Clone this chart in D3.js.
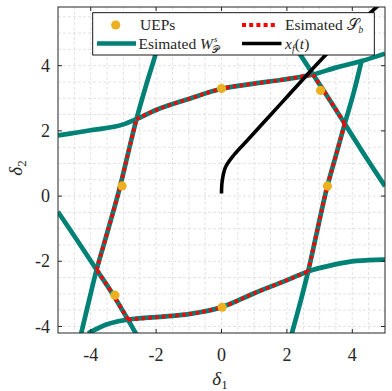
<!DOCTYPE html>
<html>
<head>
<meta charset="utf-8">
<script src="https://d3js.org/d3.v7.min.js"></script>
<style>
body{margin:0;background:#fff}
text{font-family:"Liberation Serif","Times New Roman",serif;fill:#262626}
</style>
</head>
<body>
<div id="chart"></div>
<script>
// axis ticks
var xTicks = [-4, -2, 0, 2, 4];
var yTicks = [-4, -2, 0, 2, 4];

// estimated stable manifolds W^s_P
var wsTop = [[-5,1.86],[-4,2.02],[-3,2.2],[-2.6,2.36],[-2,2.64],[-1,2.98],[0,3.29],[1,3.45],[1.8,3.56],[2.8,3.73],[3.5,3.94],[4.28,4.14],[5,4.37]];
var wsLeft = [[-4.3,-4.25],[-4.05,-3.2],[-3.82,-2.26],[-3.47,-1.04],[-3.13,0.18],[-2.86,1.3],[-2.6,2.36],[-2.32,3.35],[-2.06,4.2],[-1.8,5.1]];
var wsLowDiag = [[-5,-0.48],[-4.4,-1.38],[-3.82,-2.26],[-3.33,-3.0],[-2.86,-3.79],[-2.6,-4.25]];
var wsBottom = [[-4.08,-4.21],[-3.52,-3.94],[-2.86,-3.79],[-1.7,-3.69],[-1,-3.62],[0,-3.41],[1,-2.98],[2,-2.58],[2.65,-2.31],[3.41,-2.11],[4.13,-1.99],[5,-1.95]];
var wsRight = [[2.14,-4.25],[2.4,-3.3],[2.65,-2.31],[2.93,-1.05],[3.21,0.2],[3.5,1.25],[3.77,2.22],[4.05,3.2],[4.28,4.14]];
var wsUpDiag = [[1.9,5.0],[2.4,4.35],[2.8,3.73],[3.3,2.96],[3.77,2.22],[4.35,1.3],[5,0.3]];

// estimated stability boundary S_b, corner to corner
var sbTop = [[-2.6,2.36],[-2,2.64],[-1,2.98],[0,3.29],[1,3.45],[1.8,3.56],[2.8,3.73]];
var sbUpRight = [[2.8,3.73],[3.3,2.96],[3.77,2.22]];
var sbRight = [[3.77,2.22],[3.5,1.25],[3.21,0.2],[2.93,-1.05],[2.65,-2.31]];
var sbBottom = [[-2.86,-3.79],[-1.7,-3.69],[-1,-3.62],[0,-3.41],[1,-2.98],[2,-2.58],[2.65,-2.31]];
var sbLowLeft = [[-2.86,-3.79],[-3.33,-3.0],[-3.82,-2.26]];
var sbLeft = [[-3.82,-2.26],[-3.47,-1.04],[-3.13,0.18],[-2.86,1.3],[-2.6,2.36]];

// unstable equilibrium points
var ueps = [[-3.04,0.31],[0,3.3],[3.03,3.24],[3.24,0.31],[0.02,-3.41],[-3.26,-3.04]];

// fault-on trajectory x_f(t)
var xfPath = [[0,0.08],[0.02,0.45],[0.12,0.88],[0.38,1.26],[0.8,1.72],[1.4,2.38],[2.0,3.04],[2.6,3.7],[3.2,4.34],[3.8,4.93],[4.8,5.85]];

var teal = "#008176", red = "#ff0000", orange = "#edb120";

var W = 392, H = 391;
var margin = {top: 7, left: 58};
var width = 327, height = 326;

var x = d3.scaleLinear().domain([-5, 5]).range([0, width]);
var y = d3.scaleLinear().domain([-4.2, 5.8]).range([height, 0]);

var svg = d3.select("#chart").append("svg")
    .attr("width", W).attr("height", H);

var g = svg.append("g")
    .attr("transform", "translate(" + margin.left + "," + margin.top + ")");

g.append("clipPath").attr("id", "clip")
  .append("rect").attr("width", width).attr("height", height);

// dashed grid every 0.5
var gridX = d3.range(-4.5, 5, 0.5), gridY = d3.range(-4, 5.8, 0.5);
g.append("g").selectAll("line").data(gridX).enter().append("line")
    .attr("x1", function(d) { return x(d); }).attr("x2", function(d) { return x(d); })
    .attr("y1", 0).attr("y2", height)
    .attr("stroke", "#dcdcdc").attr("stroke-width", 0.8).attr("stroke-dasharray", "3,2");
g.append("g").selectAll("line").data(gridY).enter().append("line")
    .attr("y1", function(d) { return y(d); }).attr("y2", function(d) { return y(d); })
    .attr("x1", 0).attr("x2", width)
    .attr("stroke", "#dcdcdc").attr("stroke-width", 0.8).attr("stroke-dasharray", "3,2");

// smooth through the points; mostly-horizontal ones use monotoneX
var line = d3.line()
    .x(function(d) { return x(d[0]); })
    .y(function(d) { return y(d[1]); })
    .curve(d3.curveCatmullRom.alpha(0.5));
var lineH = d3.line()
    .x(function(d) { return x(d[0]); })
    .y(function(d) { return y(d[1]); })
    .curve(d3.curveMonotoneX);

var plot = g.append("g").attr("clip-path", "url(#clip)");

[[wsTop, lineH], [wsLeft, line], [wsLowDiag, line], [wsBottom, lineH], [wsRight, line], [wsUpDiag, line]].forEach(function(c) {
  plot.append("path").attr("d", c[1](c[0]))
      .attr("fill", "none").attr("stroke", teal).attr("stroke-width", 4.7);
});

[[sbTop, lineH], [sbUpRight, line], [sbRight, line], [sbBottom, lineH], [sbLowLeft, line], [sbLeft, line]].forEach(function(c) {
  plot.append("path").attr("d", c[1](c[0]))
      .attr("fill", "none").attr("stroke", red).attr("stroke-width", 3.8)
      .attr("stroke-dasharray", "3.6,3.2");
});

plot.append("path").attr("d", line(xfPath))
    .attr("fill", "none").attr("stroke", "#000").attr("stroke-width", 3.6);

plot.selectAll("circle").data(ueps).enter().append("circle")
    .attr("cx", function(d) { return x(d[0]); })
    .attr("cy", function(d) { return y(d[1]); })
    .attr("r", 4.6).attr("fill", orange);

// box and inward ticks
g.append("rect").attr("width", width).attr("height", height)
    .attr("fill", "none").attr("stroke", "#262626").attr("stroke-width", 1);
var tl = 4;
xTicks.forEach(function(t) {
  g.append("line").attr("x1", x(t)).attr("x2", x(t)).attr("y1", height).attr("y2", height - tl).attr("stroke", "#262626");
  g.append("line").attr("x1", x(t)).attr("x2", x(t)).attr("y1", 0).attr("y2", tl).attr("stroke", "#262626");
  g.append("text").attr("x", x(t)).attr("y", height + 28)
      .attr("text-anchor", "middle").attr("font-size", 18).text(t);
});
yTicks.forEach(function(t) {
  g.append("line").attr("y1", y(t)).attr("y2", y(t)).attr("x1", 0).attr("x2", tl).attr("stroke", "#262626");
  g.append("line").attr("y1", y(t)).attr("y2", y(t)).attr("x1", width).attr("x2", width - tl).attr("stroke", "#262626");
  g.append("text").attr("x", -8).attr("y", y(t)).attr("dy", "0.34em")
      .attr("text-anchor", "end").attr("font-size", 18).text(t);
});

// axis labels
var xl = svg.append("text").attr("x", 220).attr("y", 385)
    .attr("text-anchor", "middle").attr("font-size", 19);
xl.append("tspan").attr("font-style", "italic").text("\u03b4");
xl.append("tspan").attr("font-size", 13).attr("dy", 4).text("1");

var yl = svg.append("text").attr("transform", "translate(22,168) rotate(-90)")
    .attr("text-anchor", "middle").attr("font-size", 19);
yl.append("tspan").attr("font-style", "italic").text("\u03b4");
yl.append("tspan").attr("font-size", 13).attr("dy", 4).text("2");

// legend
var lg = svg.append("g");
lg.append("rect").attr("x", 92.7).attr("y", 12.7).attr("width", 281.6).attr("height", 42.3)
    .attr("fill", "#fff").attr("stroke", "#000").attr("stroke-width", 0.9);
var r1 = 25, r2 = 43.5;
lg.append("circle").attr("cx", 115.7).attr("cy", r1).attr("r", 4.6).attr("fill", orange);
lg.append("text").attr("x", 140).attr("y", r1 + 5).attr("font-size", 15.5).attr("fill", "#000").text("UEPs");

lg.append("line").attr("x1", 97).attr("x2", 136).attr("y1", r2).attr("y2", r2)
    .attr("stroke", teal).attr("stroke-width", 4.7);
var t2 = lg.append("text").attr("x", 138.5).attr("y", r2 + 5).attr("font-size", 15.5);
t2.append("tspan").text("Esimated ");
t2.append("tspan").attr("font-style", "italic").text("W");
var t2w = t2.node().getComputedTextLength();
lg.append("text").attr("x", 138.5 + t2w + 1).attr("y", r2 - 2).attr("font-size", 9)
    .attr("font-style", "italic").text("s");
lg.append("text").attr("x", 138.5 + t2w - 0.5).attr("y", r2 + 9).attr("font-size", 9.5)
    .attr("font-family", "DejaVu Serif").text("\ud835\udcab");

lg.append("line").attr("x1", 242).attr("x2", 278).attr("y1", r1).attr("y2", r1)
    .attr("stroke", red).attr("stroke-width", 3.8).attr("stroke-dasharray", "4,3.2");
var t3 = lg.append("text").attr("x", 285).attr("y", r1 + 5).attr("font-size", 15.5);
t3.append("tspan").text("Esimated ");
t3.append("tspan").attr("font-family", "DejaVu Serif").text("\ud835\udcae");
t3.append("tspan").attr("font-size", 9.5).attr("font-style", "italic").attr("dy", 3).text("b");

lg.append("line").attr("x1", 242).attr("x2", 281.5).attr("y1", r2).attr("y2", r2)
    .attr("stroke", "#000").attr("stroke-width", 3.6);
var t4 = lg.append("text").attr("x", 285).attr("y", r2 + 5).attr("font-size", 15.5).attr("font-style", "italic");
t4.append("tspan").text("x");
t4.append("tspan").attr("font-size", 10).attr("dy", 3).text("f");
t4.append("tspan").attr("dy", -3).attr("font-style", "normal").text("(");
t4.append("tspan").text("t");
t4.append("tspan").attr("font-style", "normal").text(")");
</script>
</body>
</html>
